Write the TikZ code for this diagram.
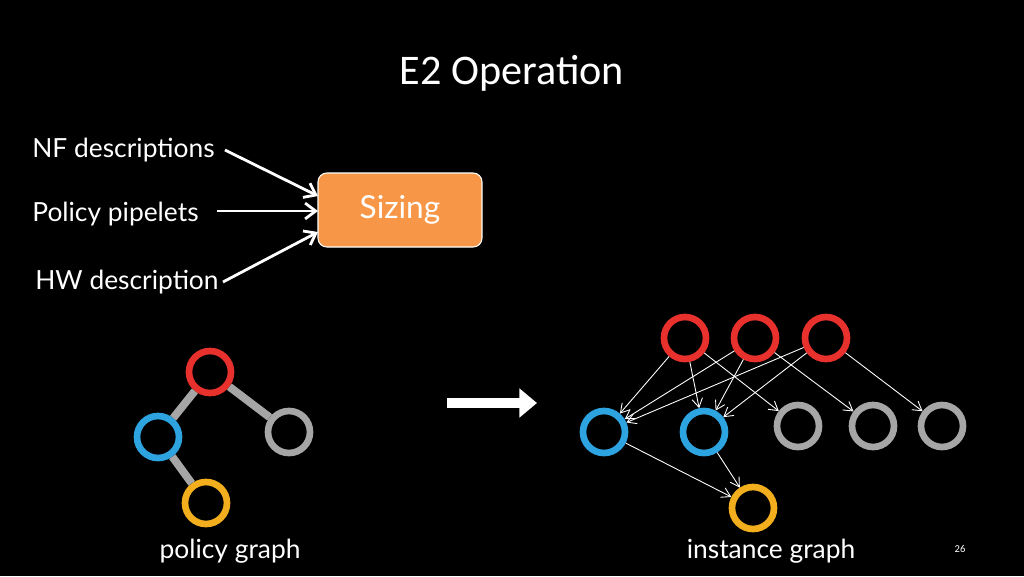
\documentclass[tikz,border=0pt]{standalone}
\usepackage{fontspec}
\setmainfont{Lato}
\newfontfamily\titlefont{Carlito}
\usetikzlibrary{arrows.meta}
\begin{document}
\begin{tikzpicture}[x=0.02cm,y=-0.02cm,
  ring/.style={circle,draw=#1,line width=3.8pt,minimum size=0.84cm,inner sep=0pt},
  thin/.style={draw=white,line width=0.5pt,-{Straight Barb[length=5pt,width=6pt]}},
  feed/.style={draw=white,line width=1.6pt,-{Straight Barb[length=6pt,width=9pt]}},
  lbl/.style={text=white,font=\fontsize{15}{18}\selectfont,inner sep=0pt}]
\fill[black] (0,0) rectangle (1024,576);
\useasboundingbox (0,0) rectangle (1024,576);
\definecolor{rred}{HTML}{E8312C}
\definecolor{rblue}{HTML}{2DA3E0}
\definecolor{rgrey}{HTML}{A6A6A6}
\definecolor{ryel}{HTML}{F2AE1C}
\definecolor{sz}{HTML}{F79646}
\node[text=white,font=\titlefont\fontsize{24}{28}\selectfont] (title) at (512,73) {E2 Operation};
\node[draw=white,line width=0.6pt,fill=sz,rounded corners=5pt,minimum width=3.28cm,minimum height=1.48cm,text=white,font=\fontsize{18}{20}\selectfont] (siz) at (400,210) {Sizing};
\node[lbl,anchor=west] (nf) at (32,150) {NF descriptions};
\node[lbl,anchor=west] (pp) at (32,214) {Policy pipelets};
\node[lbl,anchor=west] (hw) at (35,282) {HW description};
\coordinate (s1) at (318,196);
\coordinate (s2) at (318,211);
\coordinate (s3) at (318,232);
\draw[feed] (nf.east)++(10,0) -- (s1);
\draw[feed] (pp.east)++(18,-3) -- (s2);
\draw[feed] (hw.east)++(4,0) -- (s3);
% policy graph
\node[ring=rred] (pr) at (210,372) {};
\node[ring=rblue] (pb) at (158,437) {};
\node[ring=rgrey] (pg) at (289,432) {};
\node[ring=ryel] (py) at (206,503) {};
\draw[rgrey,line width=4.5pt] (pr) -- (pb) (pr) -- (pg) (pb) -- (py);
% big arrow
\coordinate (ba) at (447,403);
\coordinate (bb) at (537,403);
\draw[white,line width=6pt,-{Triangle[length=10pt,width=16pt]}] (ba) -- (bb);
% instance graph
\node[ring=rred] (r1) at (685,338) {};
\node[ring=rred] (r2) at (755,338) {};
\node[ring=rred] (r3) at (826,338) {};
\node[ring=rblue] (b1) at (604,432) {};
\node[ring=rblue] (b2) at (704,432) {};
\node[ring=rgrey] (g1) at (798,426) {};
\node[ring=rgrey] (g2) at (873,426) {};
\node[ring=rgrey] (g3) at (942,426) {};
\node[ring=ryel] (y) at (753,508) {};
\draw[thin] (r1) -- (b1);
\draw[thin] (r1) -- (b2);
\draw[thin] (r1) -- (g1);
\draw[thin] (r2) -- (b1);
\draw[thin] (r2) -- (b2);
\draw[thin] (r2) -- (g2);
\draw[thin] (r3) -- (b1);
\draw[thin] (r3) -- (b2);
\draw[thin] (r3) -- (g3);
\draw[thin] (b1) -- (y);
\draw[thin] (b2) -- (y);
\node[lbl] (pl) at (230,551) {policy graph};
\node[lbl] (il) at (771,551) {instance graph};
\node[text=white,font=\titlefont\fontsize{6}{7}\selectfont] (pn) at (960,549) {26};
\end{tikzpicture}
\end{document}
